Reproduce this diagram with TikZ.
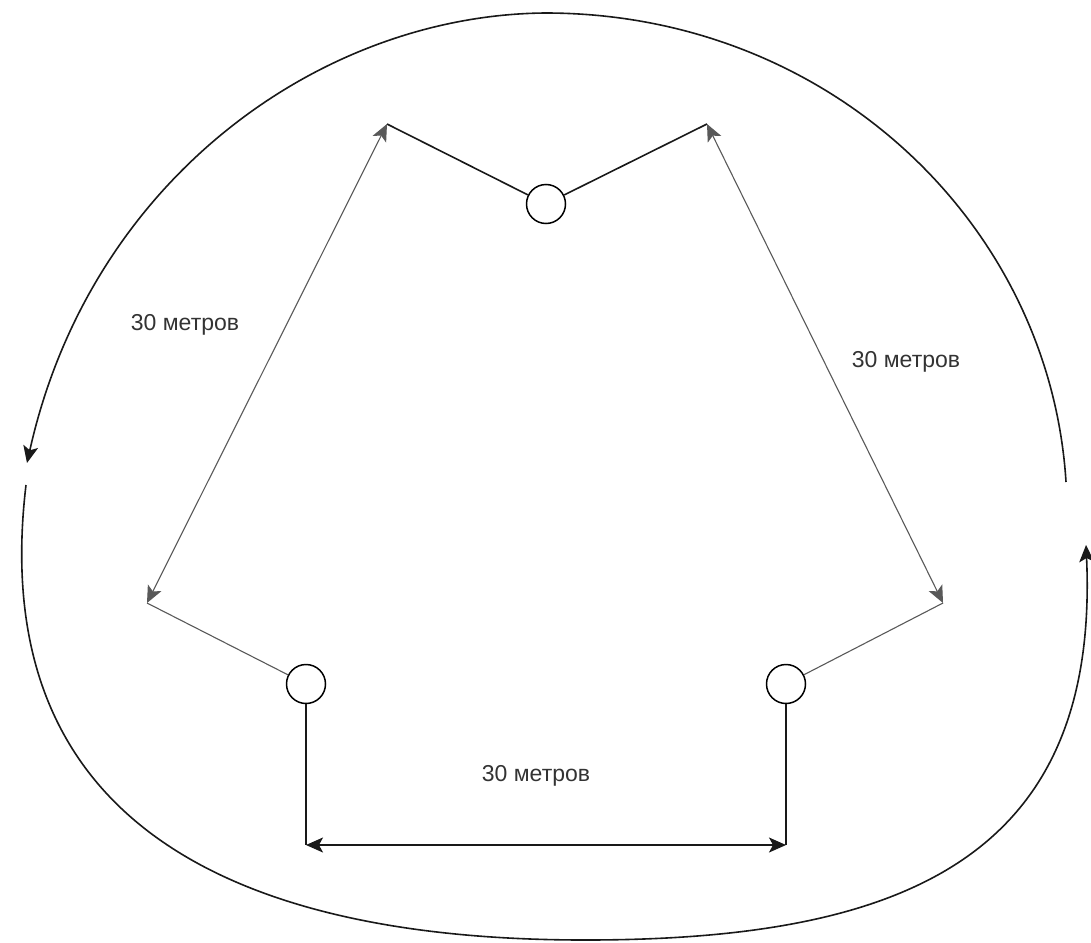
\documentclass[tikz,border=0pt]{standalone}
\usepackage{fontspec}
\setmainfont{Liberation Sans}
\usetikzlibrary{arrows.meta}
\begin{document}
\begin{tikzpicture}[x=1pt,y=-1pt,
  main/.style={line width=1.6pt,black!90},
  thin/.style={line width=1.1pt,black!65},
  tip/.style={-{Stealth[length=17pt,width=15pt,inset=4pt]}},
  bothtips/.style={{Stealth[length=17pt,width=15pt,inset=4pt]}-{Stealth[length=17pt,width=15pt,inset=4pt]}},
  post/.style={circle,draw,line width=1.5pt,minimum size=39pt,inner sep=0pt},
  lab/.style={font=\fontsize{23}{26}\selectfont,text=black!80}]
\useasboundingbox (0,0) rectangle (1091,942);
% posts
\node[post] (t) at (546,204) {};
\node[post] (l) at (306,684) {};
\node[post] (r) at (786,684) {};
% corners
\coordinate (tl) at (387,124);
\coordinate (tr) at (707,124);
\coordinate (bl) at (147,603);
\coordinate (br) at (943,603);
\coordinate (dl) at (306,845);
\coordinate (dr) at (786,845);
% connectors
\draw[main] (t) -- (tl);
\draw[main] (t) -- (tr);
\draw[thin] (l) -- (bl);
\draw[thin] (r) -- (br);
\draw[thin,bothtips] (bl) -- (tl);
\draw[thin,bothtips] (tr) -- (br);
\draw[main] (l) -- (dl);
\draw[main] (r) -- (dr);
\draw[main,bothtips] (dl) -- (dr);
% labels
\node[lab] (la) at (185,325) {30 метров};
\node[lab] (lb) at (906,362) {30 метров};
\node[lab] (lc) at (536,776) {30 метров};
% outer loop
\coordinate (a0) at (1066,482);
\coordinate (am) at (545,13);
\coordinate (a1) at (27,463);
\coordinate (b0) at (26,485);
\coordinate (bm) at (585,940);
\coordinate (b1) at (1086,545);
\draw[main,tip] (a0) .. controls (1050,225) and (830,13) .. (am)
                     .. controls (320,15) and (90,180) .. (a1);
\draw[main,tip] (b0) .. controls (-14,820) and (230,940) .. (bm)
                     .. controls (900,940) and (1100,860) .. (b1);
\end{tikzpicture}
\end{document}
